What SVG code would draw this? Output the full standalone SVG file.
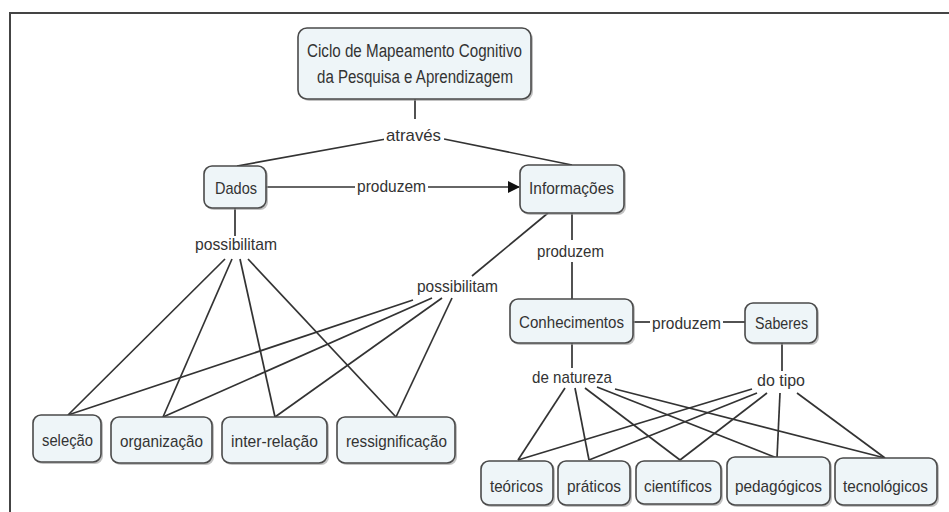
<svg xmlns="http://www.w3.org/2000/svg" width="949" height="512" viewBox="0 0 949 512">
<defs>
<style>
.box{fill:#eef5f8;stroke:#4a4a4a;stroke-width:1.6}
.sh{fill:#9a9a9a;opacity:0.6}
.t{font-family:"Liberation Sans",Arial,sans-serif;font-size:17px;fill:#333}
.r{font-size:18px}
.c{stroke:#333;stroke-width:1.7;fill:none}
</style>
<marker id="arr" viewBox="0 0 12 12" refX="11" refY="6" markerWidth="12" markerHeight="12" markerUnits="userSpaceOnUse" orient="auto">
<path d="M0,0 L12,6 L0,12 Z" fill="#111"/>
</marker>
</defs>
<rect width="949" height="512" fill="#fff"/>
<path d="M10,512 V13 H949" fill="none" stroke="#444" stroke-width="2"/>

<g id="connectors">
<path class="c" d="M415,99 V119"/>
<path class="c" d="M386,139 L237,166"/>
<path class="c" d="M444,139 L572,165"/>
<path class="c" d="M266,187 H355"/>
<path class="c" d="M428,187 H519" marker-end="url(#arr)"/>
<path class="c" d="M235,208 V236"/>
<path class="c" d="M225,259 L68,415"/>
<path class="c" d="M232,259 L163,417"/>
<path class="c" d="M240,259 L275,417"/>
<path class="c" d="M248,259 L396,417"/>
<path class="c" d="M548,213 L472,276"/>
<path class="c" d="M413,300 L68,415"/>
<path class="c" d="M432,298 L163,417"/>
<path class="c" d="M442,298 L275,417"/>
<path class="c" d="M452,298 L396,417"/>
<path class="c" d="M572,213 V240"/>
<path class="c" d="M572,262 V299"/>
<path class="c" d="M633,322 H650"/>
<path class="c" d="M723,322 H745"/>
<path class="c" d="M572,343 V368"/>
<path class="c" d="M782,343 V371"/>
<path class="c" d="M565,388 L518,460"/>
<path class="c" d="M575,388 L589,460"/>
<path class="c" d="M585,388 L680,460"/>
<path class="c" d="M597,387 L777,458"/>
<path class="c" d="M615,389 L885,458"/>
<path class="c" d="M752,389 L518,460"/>
<path class="c" d="M757,393 L589,460"/>
<path class="c" d="M767,393 L680,460"/>
<path class="c" d="M780,393 L777,458"/>
<path class="c" d="M797,393 L885,458"/>
</g>

<g id="labels">
<rect x="384" y="124" width="60" height="20" fill="#fff"/>
<text class="t" x="386" y="141" textLength="55" lengthAdjust="spacingAndGlyphs">através</text>
<text class="t" x="357" y="192" textLength="69" lengthAdjust="spacingAndGlyphs">produzem</text>
<text class="t" x="195" y="250" textLength="82" lengthAdjust="spacingAndGlyphs">possibilitam</text>
<text class="t" x="417" y="292" textLength="81" lengthAdjust="spacingAndGlyphs">possibilitam</text>
<text class="t" x="537" y="257" textLength="67" lengthAdjust="spacingAndGlyphs">produzem</text>
<text class="t" x="652" y="329" textLength="69" lengthAdjust="spacingAndGlyphs">produzem</text>
<text class="t" x="532" y="383" textLength="80" lengthAdjust="spacingAndGlyphs">de natureza</text>
<text class="t" x="757" y="386" textLength="48" lengthAdjust="spacingAndGlyphs">do tipo</text>
</g>

<g id="root">
<rect class="sh" x="300" y="30" width="233" height="71" rx="9"/>
<rect class="box" x="298" y="28" width="233" height="71" rx="9"/>
<text class="t r" x="307" y="57" textLength="215" lengthAdjust="spacingAndGlyphs">Ciclo de Mapeamento Cognitivo</text>
<text class="t r" x="317" y="83" textLength="196" lengthAdjust="spacingAndGlyphs">da Pesquisa e Aprendizagem</text>
</g>
<g id="dados">
<rect class="sh" x="206" y="168" width="62" height="42" rx="8"/>
<rect class="box" x="204" y="166" width="62" height="42" rx="8"/>
<text class="t" x="215" y="194" textLength="42" lengthAdjust="spacingAndGlyphs">Dados</text>
</g>
<g id="informacoes">
<rect class="sh" x="522" y="167" width="104" height="48" rx="8"/>
<rect class="box" x="520" y="165" width="104" height="48" rx="8"/>
<text class="t" x="529" y="194" textLength="85" lengthAdjust="spacingAndGlyphs">Informações</text>
</g>
<g id="conhecimentos">
<rect class="sh" x="512" y="301" width="123" height="44" rx="8"/>
<rect class="box" x="510" y="299" width="123" height="44" rx="8"/>
<text class="t" x="519" y="328" textLength="105" lengthAdjust="spacingAndGlyphs">Conhecimentos</text>
</g>
<g id="saberes">
<rect class="sh" x="747" y="305" width="72" height="40" rx="8"/>
<rect class="box" x="745" y="303" width="72" height="40" rx="8"/>
<text class="t" x="755" y="329" textLength="53" lengthAdjust="spacingAndGlyphs">Saberes</text>
</g>
<g id="selecao">
<rect class="sh" x="35" y="417" width="68" height="47" rx="8"/>
<rect class="box" x="33" y="415" width="68" height="47" rx="8"/>
<text class="t" x="42" y="446" textLength="51" lengthAdjust="spacingAndGlyphs">seleção</text>
</g>
<g id="organizacao">
<rect class="sh" x="113" y="419" width="101" height="46" rx="8"/>
<rect class="box" x="111" y="417" width="101" height="46" rx="8"/>
<text class="t" x="120" y="447" textLength="83" lengthAdjust="spacingAndGlyphs">organização</text>
</g>
<g id="inter-relacao">
<rect class="sh" x="224" y="419" width="105" height="46" rx="8"/>
<rect class="box" x="222" y="417" width="105" height="46" rx="8"/>
<text class="t" x="231" y="447" textLength="87" lengthAdjust="spacingAndGlyphs">inter-relação</text>
</g>
<g id="ressignificacao">
<rect class="sh" x="339" y="419" width="118" height="46" rx="8"/>
<rect class="box" x="337" y="417" width="118" height="46" rx="8"/>
<text class="t" x="346" y="447" textLength="101" lengthAdjust="spacingAndGlyphs">ressignificação</text>
</g>
<g id="teoricos">
<rect class="sh" x="483" y="463" width="72" height="44" rx="8"/>
<rect class="box" x="481" y="461" width="72" height="44" rx="8"/>
<text class="t" x="490" y="492" textLength="53" lengthAdjust="spacingAndGlyphs">teóricos</text>
</g>
<g id="praticos">
<rect class="sh" x="560" y="463" width="72" height="44" rx="8"/>
<rect class="box" x="558" y="461" width="72" height="44" rx="8"/>
<text class="t" x="567" y="492" textLength="54" lengthAdjust="spacingAndGlyphs">práticos</text>
</g>
<g id="cientificos">
<rect class="sh" x="638" y="463" width="85" height="43" rx="8"/>
<rect class="box" x="636" y="461" width="85" height="43" rx="8"/>
<text class="t" x="644" y="492" textLength="68" lengthAdjust="spacingAndGlyphs">científicos</text>
</g>
<g id="pedagogicos">
<rect class="sh" x="729" y="459" width="103" height="48" rx="8"/>
<rect class="box" x="727" y="457" width="103" height="48" rx="8"/>
<text class="t" x="735" y="492" textLength="87" lengthAdjust="spacingAndGlyphs">pedagógicos</text>
</g>
<g id="tecnologicos">
<rect class="sh" x="837" y="460" width="102" height="47" rx="8"/>
<rect class="box" x="835" y="458" width="102" height="47" rx="8"/>
<text class="t" x="843" y="492" textLength="85" lengthAdjust="spacingAndGlyphs">tecnológicos</text>
</g>
</svg>
